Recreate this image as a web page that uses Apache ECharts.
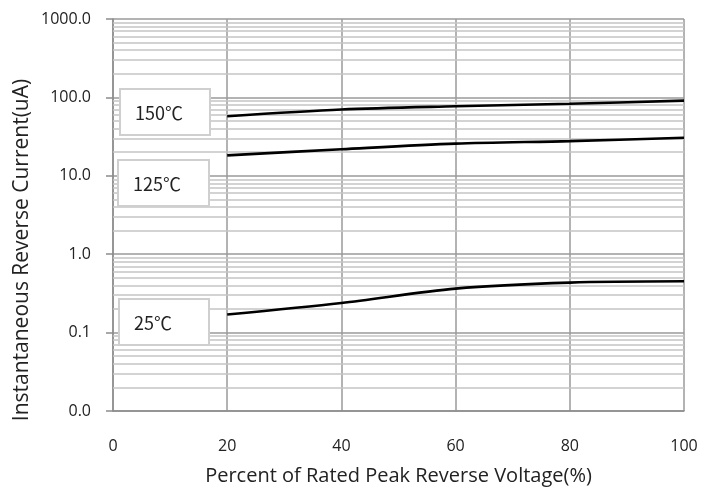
<!DOCTYPE html>
<html>
<head>
<meta charset="utf-8">
<script src="https://cdn.jsdelivr.net/npm/echarts@6/dist/echarts.min.js"></script>
<style>
html,body{margin:0;padding:0;background:#fff;}
#chart{width:715px;height:491px;}
</style>
</head>
<body>
<div id="chart"></div>
<script>
// ---- data ----
const voltagePercent = [20, 40, 60, 80, 100];
const current150C = [57.5, 70, 77, 83, 91];
const current125C = [18.2, 21.8, 25.7, 27.7, 30.6];
const current25C = [0.170, 0.239, 0.364, 0.434, 0.451];
const seriesLabels = ['150℃', '125℃', '25℃'];
const xTicks = [0, 20, 40, 60, 80, 100];
const yDecades = [0.01, 0.1, 1, 10, 100, 1000];
const minorMultipliers = [2, 3, 4, 5, 6, 7, 8, 9];

const minorGrid = [];
for (let i = 0; i < yDecades.length - 1; i++) {
  for (const m of minorMultipliers) minorGrid.push({ yAxis: +(yDecades[i] * m).toPrecision(3) });
}

const FONT = '"Open Sans", "Noto Sans CJK SC", sans-serif';
const CJK = '"Noto Sans CJK SC", "Open Sans", sans-serif';
const chart = echarts.init(document.getElementById('chart'), null, { renderer: 'canvas' });

function pair(xs, ys) { return xs.map((x, i) => [x, ys[i]]); }

function labelBox(left, top, w, h, text) {
  return [
    { type: 'rect', z: 100, zlevel: 1, shape: { x: left, y: top, width: w, height: h },
      style: { fill: '#ffffff', stroke: '#cfcfcf', lineWidth: 2 } },
    { type: 'text', z: 101, zlevel: 1, x: left + 15, y: top + h / 2 + 1,
      style: { text: text, fill: '#222', font: '18px ' + CJK, verticalAlign: 'middle' } }
  ];
}

const lineStyle = { color: '#000', width: 2.6 };

chart.setOption({
  animation: false,
  grid: { left: 113, right: 31, top: 19, bottom: 78, containLabel: false },
  xAxis: {
    type: 'value', min: xTicks[0], max: xTicks[xTicks.length - 1], interval: 20,
    name: 'Percent of Rated Peak Reverse Voltage(%)', nameLocation: 'middle', nameGap: 55,
    nameTextStyle: { fontFamily: FONT, fontSize: 20, color: '#222' },
    axisLine: { show: true, lineStyle: { color: '#8c8c8c', width: 1.5 } },
    axisTick: { show: false },
    axisLabel: { margin: 27, fontFamily: FONT, fontSize: 16, color: '#222' },
    splitLine: { show: true, lineStyle: { color: '#9a9a9a', width: 1.5 } }
  },
  yAxis: {
    type: 'log', logBase: 10, min: yDecades[0], max: yDecades[yDecades.length - 1],
    axisLine: { show: true, lineStyle: { color: '#8c8c8c', width: 1.5 } },
    axisTick: { show: true, length: 7, lineStyle: { color: '#8c8c8c', width: 1.5 } },
    axisLabel: { margin: 22, fontFamily: FONT, fontSize: 16, color: '#222',
      formatter: v => Number(v).toFixed(1) },
    splitLine: { show: true, lineStyle: { color: '#9a9a9a', width: 1.5 } },
    minorTick: { show: false }, minorSplitLine: { show: false }
  },
  graphic: [
    { type: 'text', x: 22, y: 250, rotation: Math.PI / 2,
      style: { text: 'Instantaneous Reverse Current(uA)', fill: '#222',
        font: '21px ' + FONT, align: 'center', verticalAlign: 'middle' } },
    ...labelBox(120, 89, 90, 46, seriesLabels[0]),
    ...labelBox(118, 160, 91, 46, seriesLabels[1]),
    ...labelBox(119, 299, 90, 46, seriesLabels[2])
  ],
  series: [
    { name: 'grid', type: 'line', data: [], silent: true, z: 1,
      markLine: { silent: true, symbol: ['none', 'none'], label: { show: false },
        lineStyle: { color: '#c4c4c4', width: 1.5, type: 'solid' }, data: minorGrid } },
    { name: seriesLabels[0], type: 'line', data: pair(voltagePercent, current150C), smooth: 0.3,
      showSymbol: false, lineStyle: lineStyle, z: 5 },
    { name: seriesLabels[1], type: 'line', data: pair(voltagePercent, current125C), smooth: 0.3,
      showSymbol: false, lineStyle: lineStyle, z: 5 },
    { name: seriesLabels[2], type: 'line', data: pair(voltagePercent, current25C), smooth: 0.3,
      showSymbol: false, lineStyle: lineStyle, z: 5 }
  ]
});
</script>
</body>
</html>
